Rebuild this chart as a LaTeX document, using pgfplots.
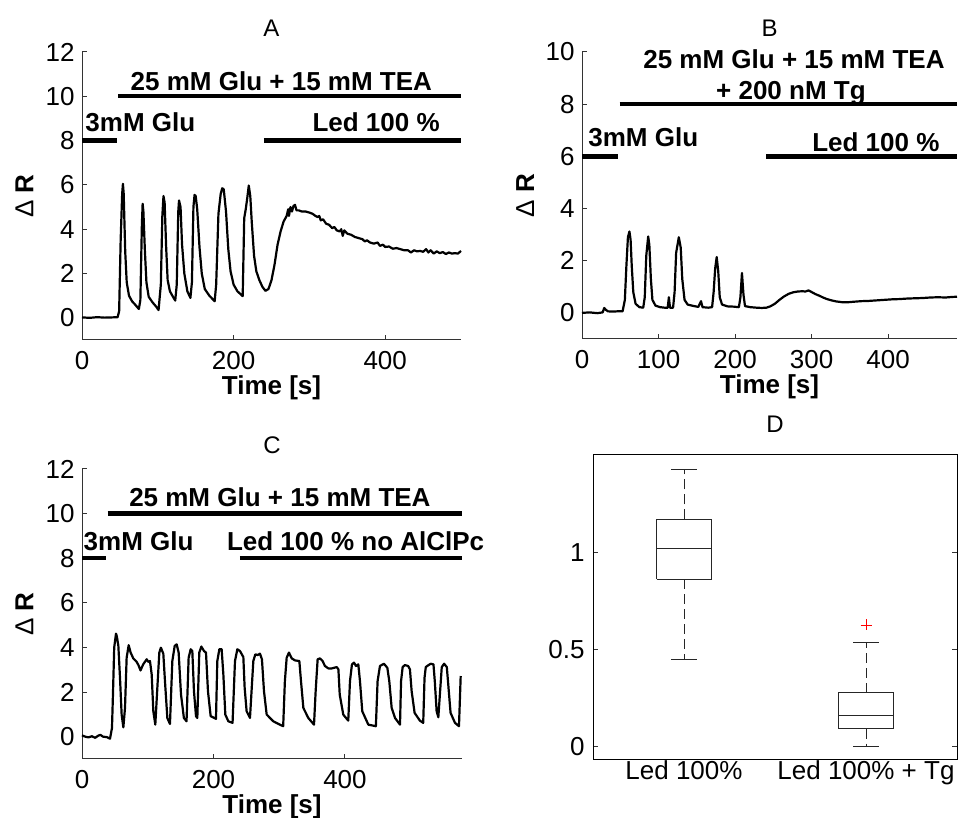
\documentclass[border=0pt]{standalone}
\usepackage{fontspec}
\setmainfont{Liberation Sans}
\usepackage{pgfplots}
\pgfplotsset{compat=1.18}

\newcommand{\tickfont}{\fontsize{13}{15}\selectfont}
\newcommand{\annfont}{\bfseries\fontsize{13}{15}\selectfont}

\pgfplotsset{
  trace/.style={black, line width=1.1pt, no markers, line join=round},
  bar/.style={black, line width=2.2pt, no markers},
  panel/.style={
    scale only axis,
    axis x line*=bottom, axis y line*=left,
    tick align=inside, major tick length=2.5pt,
    axis line style={black!80, line width=0.5pt},
    tick style={black!80, line width=0.5pt},
    tick label style={font=\tickfont},
    /pgf/number format/assume math mode=true,
    xticklabel style={anchor=base, inner sep=0pt, yshift=-14.7pt},
    yticklabel style={anchor=east, inner sep=0pt, xshift=-3.5pt},
    title style={font=\fontsize{12}{14}\selectfont, at={(axis description cs:0.5,1)}, anchor=base, yshift=1.7pt},
    xlabel={\bfseries Time [s]},
    xlabel style={font=\tickfont, at={(axis description cs:0.5,0)}, anchor=base, yshift=-27.5pt},
    ylabel={Δ \textbf{R}},
    ylabel style={font=\tickfont, at={(axis description cs:-0.128,0.5)}, anchor=base},
    clip=false,
  },
}

\begin{document}
\begin{tikzpicture}
\useasboundingbox (0,0) rectangle (479pt,409pt);

% ---------------- A ----------------
\begin{axis}[panel, at={(41pt,239pt)}, anchor=south west,
  width=189.5pt, height=144pt,
  xmin=0, xmax=500, ymin=-1, ymax=12,
  xtick={0,200,400}, ytick={0,2,...,12},
  title={A}]
\addplot[bar] coordinates {(0,8) (46,8)};
\addplot[bar] coordinates {(48,10) (500,10)};
\addplot[bar] coordinates {(240,8) (500,8)};
\node[anchor=base, inner sep=0pt, font=\annfont] at (axis cs:263,10.24) {25 mM Glu + 15 mM TEA};
\node[anchor=base west, inner sep=0pt, font=\annfont] at (axis cs:4,8.41) {3mM Glu};
\node[anchor=base, inner sep=0pt, font=\annfont] at (axis cs:388,8.41) {Led 100 \%};
\addplot[trace] coordinates {
(0,0.02)(10,0.0)(20,0.03)(30,0.01)(40,0.02)(47,0.03)(49,0.3)(51,3.5)(53,5.6)(54,6.05)(55,5.6)(57,3.0)(59,1.6)(62,1.0)(66,0.75)(70,0.6)(75,0.4)
(77,0.8)(79,4.2)(80,5.15)(81,4.8)(83,3.0)(85,1.6)(88,0.95)(93,0.7)(98,0.5)(101,0.35)
(104,1.5)(106,4.6)(107.5,5.5)(109,5.2)(111,3.2)(113,1.7)(116,1.2)(120,0.95)(123,0.78)
(125,1.5)(127,4.8)(128,5.3)(130,5.0)(132,3.3)(135,2.0)(139,1.2)(143,0.9)
(145,1.6)(147,5.0)(148.5,5.55)(150,5.5)(152,4.9)(155,3.2)(158,2.0)(162,1.3)(168,1.0)(175,0.75)
(177,1.5)(180,4.7)(183,5.6)(185,5.85)(187,5.8)(190,4.8)(193,3.1)(196,2.1)(200,1.5)(205,1.2)(212,0.98)
(214,4.5)(216,4.9)(218,5.4)(220,5.97)(222,5.5)(224,4.3)(227,2.8)(230,2.1)(234,1.7)(238,1.4)(242,1.22)
(246,1.3)(250,1.7)(254,2.4)(258,3.3)(262,3.9)(266,4.35)(270,4.6)(272,4.9)(273,4.6)(275,5.0)(277,4.8)(279,5.05)(281,5.1)(283,4.85)
(286,4.85)(290,4.8)(295,4.8)(300,4.75)(304,4.7)(308,4.6)(311,4.55)(313,4.6)(315,4.4)(318,4.45)(322,4.25)(326,4.2)(330,4.05)
(333,4.1)(336,3.95)(340,3.9)(342,4.0)(344,3.7)(346,3.95)(350,3.8)(355,3.75)(360,3.65)(365,3.6)(370,3.55)(373,3.45)(376,3.5)
(380,3.4)(385,3.35)(390,3.4)(393,3.25)(397,3.3)(400,3.2)(405,3.22)(410,3.12)(415,3.15)(420,3.1)(425,3.05)(430,3.05)(434,2.95)
(438,3.05)(442,3.0)(446,3.02)(450,2.98)(454,3.1)(457,2.95)(460,3.05)(464,2.9)(468,3.0)(472,2.92)(476,2.97)(480,2.88)(484,2.95)
(488,2.9)(492,2.92)(496,2.9)(500,3.02)
};
\end{axis}

% ---------------- B ----------------
\begin{axis}[panel, at={(291pt,239.5pt)}, anchor=south west,
  width=187.5pt, height=143.5pt,
  xmin=0, xmax=490, ymin=-1, ymax=10,
  xtick={0,100,...,400}, ytick={0,2,...,10},
  title={B}]
\addplot[bar] coordinates {(0,6) (47,6)};
\addplot[bar] coordinates {(49,8) (490,8)};
\addplot[bar] coordinates {(241,6) (490,6)};
\node[anchor=base, inner sep=0pt, font=\annfont] at (axis cs:277,9.38) {25 mM Glu + 15 mM TEA};
\node[anchor=base, inner sep=0pt, font=\annfont] at (axis cs:273,8.19) {+ 200 nM Tg};
\node[anchor=base west, inner sep=0pt, font=\annfont] at (axis cs:7.8,6.37) {3mM Glu};
\node[anchor=base, inner sep=0pt, font=\annfont] at (axis cs:384,6.18) {Led 100 \%};
\addplot[trace] coordinates {
(0,0.0)(10,0.02)(20,-0.01)(27,0.02)(29,0.19)(31,0.12)(34,0.06)(40,0.05)(46,0.06)(53,0.06)
(56,0.5)(58,1.8)(60,2.9)(62,3.12)(63.5,2.8)(65,1.8)(67,0.8)(70,0.35)(75,0.22)(80,0.2)
(82,0.6)(84,2.2)(86.5,2.93)(88,2.6)(90,1.3)(92,0.5)(96,0.28)(102,0.22)(108,0.2)(112,0.2)(113.5,0.6)(115,0.2)(119,0.2)
(121,0.8)(123,2.3)(126.5,2.9)(129,2.5)(131,1.3)(134,0.5)(138,0.32)(145,0.27)(152,0.23)(155.5,0.45)(157.5,0.22)(165,0.2)(170,0.22)
(172,0.8)(174,1.7)(176,2.14)(178,1.6)(180,0.6)(183,0.32)(190,0.25)(198,0.24)(205,0.22)
(207,0.6)(209,1.53)(211,0.7)(213,0.26)(220,0.22)(228,0.2)(235,0.19)(241,0.2)(246,0.25)(252,0.35)(258,0.5)(264,0.63)
(270,0.73)(276,0.79)(282,0.82)(288,0.83)(292,0.82)(296,0.86)(300,0.8)(305,0.72)(310,0.66)(315,0.59)(320,0.53)(326,0.48)
(332,0.44)(340,0.41)(348,0.41)(356,0.43)(365,0.45)(375,0.46)(385,0.48)(395,0.5)(405,0.52)(415,0.53)(425,0.55)(435,0.56)
(445,0.57)(455,0.59)(465,0.6)(475,0.59)(483,0.61)(490,0.62)
};
\end{axis}

% ---------------- C ----------------
\begin{axis}[panel, at={(41pt,29.5pt)}, anchor=south west,
  width=190pt, height=145pt,
  xmin=0, xmax=578, ymin=-1, ymax=12,
  xtick={0,200,400}, ytick={0,2,...,12},
  title={C}]
\addplot[bar] coordinates {(0,8) (37,8)};
\addplot[bar] coordinates {(39,10) (578,10)};
\addplot[bar] coordinates {(240,8) (578,8)};
\node[anchor=base, inner sep=0pt, font=\annfont] at (axis cs:301,10.3) {25 mM Glu + 15 mM TEA};
\node[anchor=base west, inner sep=0pt, font=\annfont] at (axis cs:2,8.35) {3mM Glu};
\node[anchor=base west, inner sep=0pt, font=\annfont] at (axis cs:220,8.35) {Led 100 \% no AlClPc};
\addplot[trace] coordinates {
(0,0.06)(5,0.0)(10,-0.03)(15,0.02)(20,-0.05)(25,0.05)(28,0.08)(32,0.0)(38,-0.02)(42.6,-0.09)
(45.6,0.39)(47,1.8)(49,4.0)(51.7,4.62)(53,4.5)(55.3,4.07)(57.8,2.64)(60.3,0.99)(62.9,0.42)
(65.4,1.29)(67.9,3.54)(71,4.1)(74,3.77)(78,3.51)(83,3.36)(86,3.2)(89,2.97)(93,3.24)(98.4,3.47)(101,3.35)(103.4,3.39)(106,2.79)(108.5,1.14)(111.5,0.54)
(114.6,2.19)(117.6,3.77)(120,3.99)(123.7,3.72)(126.2,2.49)(129.8,0.84)(133.8,0.57)
(137.4,3.39)(141,4.07)(144,4.14)(147,3.77)(150.6,1.89)(155,0.84)(159,0.69)
(162.2,3.54)(165.3,3.92)(167.8,3.84)(170.3,2.04)(173.4,0.92)(175.4,0.84)
(178.4,3.77)(181.5,4.04)(185.6,3.84)(188.6,3.77)(191.6,2.04)(195.7,0.92)(203.8,0.8)
(205.8,3.39)(208.9,3.92)(212.4,3.92)(215,2.79)(218,0.99)(222.6,0.69)(229,0.62)
(232.7,3.39)(236.3,3.92)(240.3,3.84)(245.4,3.57)(247.4,2.19)(250.4,1.14)(255.5,0.84)
(260.6,3.39)(263.6,3.69)(267.2,3.66)(270.7,3.72)(273.7,3.47)(276.8,2.04)(280.9,0.99)(291,0.69)(301,0.54)(306,0.47)
(308.6,2.49)(311.3,3.54)(314.8,3.77)(319,3.51)(324,3.42)(330.6,3.39)(333.1,2.49)(336.7,1.29)(344.2,0.84)(352.9,0.54)
(355.4,2.04)(358.4,3.47)(362,3.51)(366,3.39)(369.5,3.17)(374.7,3.06)(379.8,3.06)(387.5,3.12)(390,3.02)(392,1.89)(397.4,0.99)(405,0.72)
(407.6,2.49)(410.6,3.24)(413.7,3.32)(416.7,3.17)(420.3,3.24)(422.8,2.49)(426.3,1.14)(435.5,0.54)(447,0.47)
(449.6,2.49)(453.2,3.17)(459.3,3.27)(464.4,3.09)(467.4,2.49)(471,1.29)(476.1,0.84)(483.7,0.54)
(485.3,2.49)(487.7,3.12)(491,3.21)(496,3.17)(498.8,3.02)(501.4,2.04)(505.9,1.07)(513.9,0.72)(519,0.62)
(521,2.64)(522.9,3.12)(527,3.21)(530.5,3.27)(534.6,3.24)(536.6,2.49)(539.4,1.14)(542,0.87)
(544.7,2.04)(547.2,3.12)(550.8,3.27)(554.9,3.12)(557.5,2.19)(560.6,1.07)(567.3,0.62)(573.4,0.47)(576,2.72)
};
\end{axis}

% ---------------- D ----------------
\begin{axis}[at={(296.5pt,29pt)}, anchor=south west,
  scale only axis, width=182pt, height=152.5pt,
  xmin=0.5, xmax=2.5, ymin=-0.07, ymax=1.5,
  xtick={1,2}, xticklabels={Led 100\%, Led 100\% + Tg},
  ytick={0,0.5,1},
  tick align=inside, major tick length=2.5pt,
  axis line style={black, line width=0.5pt},
  tick style={black!80, line width=0.5pt},
  xtick style={draw=none},
  tick label style={font=\tickfont},
  /pgf/number format/assume math mode=true,
  xticklabel style={anchor=base, inner sep=0pt, yshift=-10pt},
  yticklabel style={anchor=east, inner sep=0pt, xshift=-4pt},
  title={D},
  title style={font=\fontsize{12}{14}\selectfont, at={(axis description cs:0.5,1)}, anchor=base, yshift=5pt},
  boxln/.style={black!85, line width=0.5pt, no markers},
  whisk/.style={black!85, line width=0.5pt, no markers, dash pattern=on 5pt off 2.5pt},
]
% Led 100%
\addplot[boxln] coordinates {(0.85,0.861)(1.15,0.861)(1.15,1.168)(0.85,1.168)(0.85,0.861)};
\addplot[boxln] coordinates {(0.85,1.021)(1.15,1.021)};
\addplot[whisk] coordinates {(1,1.168)(1,1.427)};
\addplot[whisk] coordinates {(1,0.861)(1,0.446)};
\addplot[boxln] coordinates {(0.93,1.427)(1.07,1.427)};
\addplot[boxln] coordinates {(0.93,0.446)(1.07,0.446)};
% Led 100% + Tg
\addplot[boxln] coordinates {(1.85,0.091)(2.15,0.091)(2.15,0.275)(1.85,0.275)(1.85,0.091)};
\addplot[boxln] coordinates {(1.85,0.158)(2.15,0.158)};
\addplot[whisk] coordinates {(2,0.275)(2,0.537)};
\addplot[whisk] coordinates {(2,0.091)(2,0.0)};
\addplot[boxln] coordinates {(1.93,0.537)(2.07,0.537)};
\addplot[boxln] coordinates {(1.93,0.0)(2.07,0.0)};
\addplot[only marks, mark=+, mark size=2.75pt, red, line width=0.4pt] coordinates {(2,0.625)};
\end{axis}
\end{tikzpicture}
\end{document}
